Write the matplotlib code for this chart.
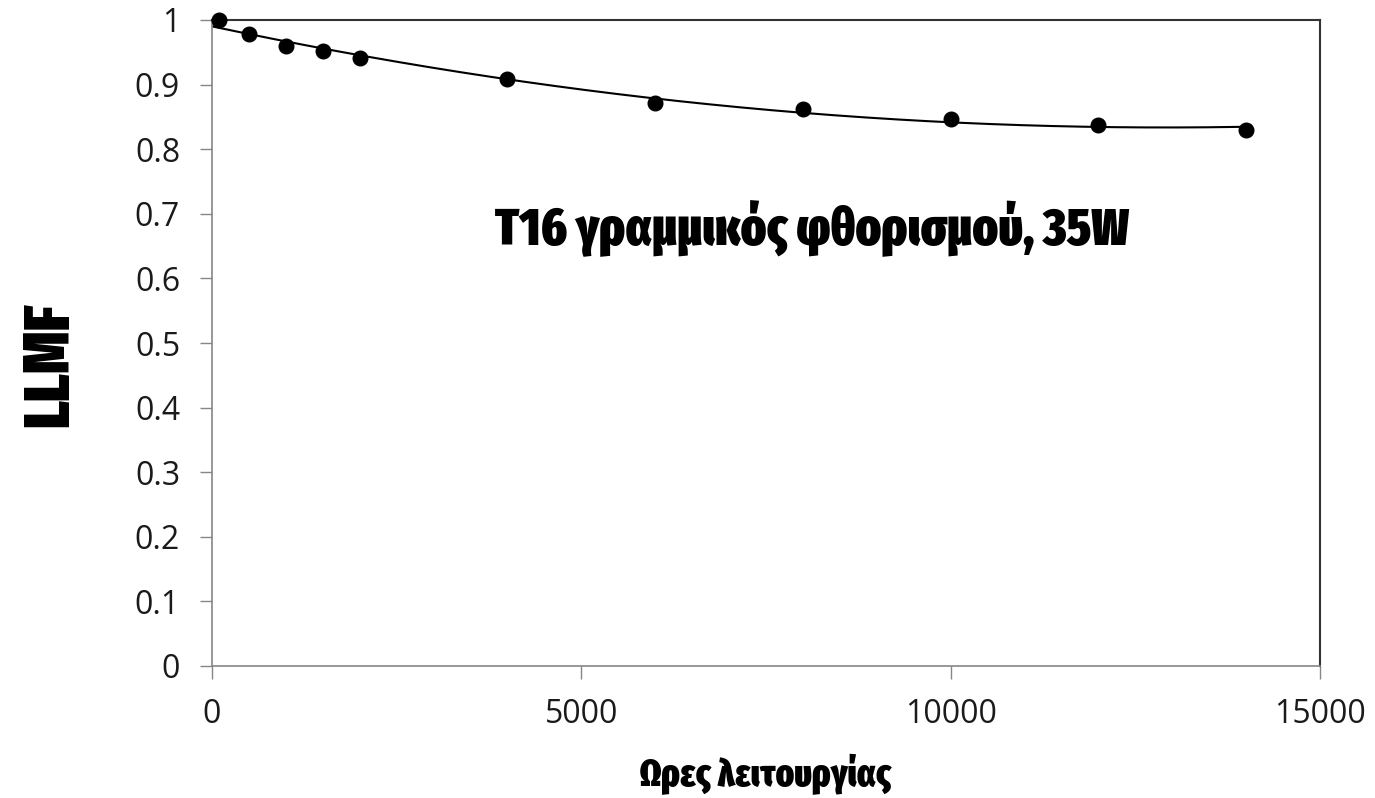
import numpy as np
import matplotlib
matplotlib.use("Agg")
import matplotlib.pyplot as plt

# ώρες λειτουργίας και LLMF (μετρημένα σημεία)
hours = [100, 500, 1000, 1500, 2000, 4000, 6000, 8000, 10000, 12000, 14000]
llmf = [1.0, 0.979, 0.960, 0.952, 0.941, 0.909, 0.871, 0.862, 0.847, 0.838, 0.829]

x_ticks = [0, 5000, 10000, 15000]
y_ticks = [0, 0.1, 0.2, 0.3, 0.4, 0.5, 0.6, 0.7, 0.8, 0.9, 1]
y_tick_labels = ["0", "0.1", "0.2", "0.3", "0.4", "0.5", "0.6", "0.7", "0.8", "0.9", "1"]

title = "T16 γραμμικός φθορισμού, 35W"
x_label = "Ωρες λειτουργίας"
y_label = "LLMF"

tick_font = "Open Sans"
head_font = ["Fira Sans Extra Condensed", "DejaVu Sans"]

W, H = 1375, 798
fig = plt.figure(figsize=(W / 100, H / 100), dpi=100)
ax = fig.add_axes([212 / W, 1 - 666 / H, (1320 - 212) / W, (666 - 20) / H])

# πολυωνυμική γραμμή τάσης 2ου βαθμού, όπως στο Excel
coef = np.polyfit(hours, llmf, 2)
xt = np.linspace(0, max(hours), 300)
ax.plot(xt, np.polyval(coef, xt), color="black", lw=1.5, zorder=2)

ax.plot(hours, llmf, "o", color="black", markersize=10.5, zorder=3, clip_on=False)

ax.set_xlim(0, 15000)
ax.set_ylim(0, 1)
ax.set_xticks(x_ticks)
ax.set_xticklabels([str(v) for v in x_ticks])
ax.set_yticks(y_ticks)
ax.set_yticklabels(y_tick_labels)

for side in ["left", "bottom"]:
    ax.spines[side].set_color("#868686")
    ax.spines[side].set_linewidth(1.2)
for side in ["top", "right"]:
    ax.spines[side].set_color("#333333")
    ax.spines[side].set_linewidth(1.5)

ax.tick_params(axis="both", direction="out", length=9, width=1, color="#868686",
               labelsize=23, labelcolor="#1a1a1a")
ax.tick_params(axis="y", pad=14)
ax.tick_params(axis="x", pad=14)
for lab in ax.get_xticklabels() + ax.get_yticklabels():
    lab.set_fontfamily(tick_font)

fig.text(812 / W, 1 - 245 / H, title, ha="center", va="baseline",
         fontsize=37.5, fontweight=900, family=head_font)

fig.text(766 / W, 1 - 786 / H, x_label, ha="center", va="baseline",
         fontsize=27, fontweight=900, family=head_font)
fig.text(68 / W, 1 - 365 / H, y_label, ha="center", va="baseline", rotation=90,
         rotation_mode="anchor", fontsize=46, fontweight=900, family=head_font)

fig.savefig("out.png", dpi=100)
